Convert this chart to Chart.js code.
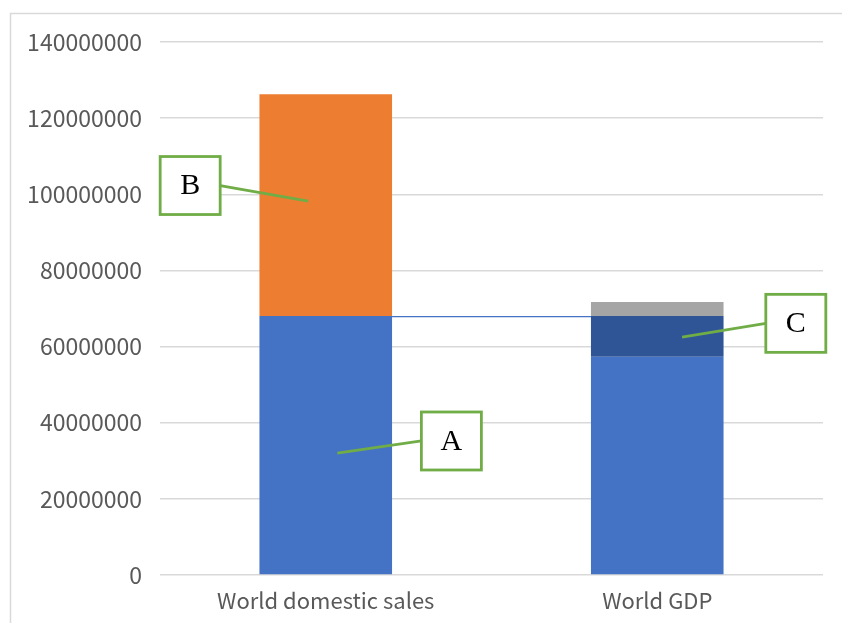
<!DOCTYPE html>
<html>
<head>
<meta charset="utf-8">
<script src="https://cdn.jsdelivr.net/npm/chart.js@4/dist/chart.umd.min.js"></script>
<style>
  html, body { margin: 0; padding: 0; background: #fff; overflow: hidden; }
  #wrap { width: 842px; height: 623px; position: relative; }
</style>
</head>
<body>
<div id="wrap"><canvas id="chart" width="842" height="623"></canvas></div>
<script>
// categories and stacked series
const categories = ['World domestic sales', 'World GDP'];
const seriesA = [68000000, 57300000];      // blue base
const seriesB = [58300000, 0];             // orange (top of domestic sales)
const seriesC = [0, 10700000];             // dark blue (GDP slice)
const seriesD = [0, 3700000];              // grey (top of GDP)
const yTicks = [0, 20000000, 40000000, 60000000, 80000000, 100000000, 120000000, 140000000];
const connectorValue = 68000000;

// callouts: label, box centre (category index, value), leader end (category index, value)
const calloutLabels = ['A', 'B', 'C'];
const calloutBox = [[0.379, 35200000], [-0.409, 102300000], [1.418, 66100000]];
const calloutTip = [[0.035, 32000000], [-0.053, 98200000], [1.075, 62500000]];

const fontFamily = '"Noto Sans CJK SC", "Noto Sans", sans-serif';

// outer frame (light border like the office chart)
const framePlugin = {
  id: 'frame',
  beforeDraw(chart) {
    const c = chart.ctx;
    c.save();
    c.strokeStyle = '#d9d9d9';
    c.lineWidth = 1.5;
    c.strokeRect(10.5, 13.5, 1000, 1000);
    c.restore();
  }
};

// thin line joining the two bars at the same level
const connectorPlugin = {
  id: 'connector',
  afterDatasetsDraw(chart) {
    const bars = chart.getDatasetMeta(0).data;
    const y = chart.scales.y.getPixelForValue(connectorValue);
    const x1 = bars[0].x + bars[0].width / 2;
    const x2 = bars[1].x - bars[1].width / 2;
    const c = chart.ctx;
    c.save();
    c.strokeStyle = '#4472C4';
    c.lineWidth = 1.2;
    c.beginPath();
    c.moveTo(x1, y + 0.5);
    c.lineTo(x2, y + 0.5);
    c.stroke();
    c.restore();
  }
};

// green boxed callouts
const calloutPlugin = {
  id: 'callouts',
  afterDatasetsDraw(chart) {
    const xs = chart.scales.x, ys = chart.scales.y;
    const step = xs.getPixelForValue(1) - xs.getPixelForValue(0);
    const px = v => xs.getPixelForValue(0) + v * step;
    const c = chart.ctx;
    c.save();
    calloutLabels.forEach((lab, i) => {
      const bx = px(calloutBox[i][0]), by = ys.getPixelForValue(calloutBox[i][1]);
      const tx = px(calloutTip[i][0]), ty = ys.getPixelForValue(calloutTip[i][1]);
      const w = 60, h = 58;
      // leader line goes to the nearest vertical edge of the box
      const ex = tx < bx ? bx - w / 2 : bx + w / 2;
      c.strokeStyle = '#70AD47';
      c.lineWidth = 2.8;
      c.beginPath();
      c.moveTo(tx, ty);
      c.lineTo(ex, by);
      c.stroke();
      c.fillStyle = '#fff';
      c.fillRect(bx - w / 2, by - h / 2, w, h);
      c.strokeRect(bx - w / 2, by - h / 2, w, h);
      c.fillStyle = '#000';
      c.font = '30px "Liberation Serif", "Times New Roman", serif';
      c.textAlign = 'center';
      c.textBaseline = 'middle';
      c.fillText(lab, bx, by + 1);
    });
    c.restore();
  }
};

const ctx = document.getElementById('chart').getContext('2d');
const myChart = new Chart(ctx, {
  type: 'bar',
  data: {
    labels: categories,
    datasets: [
      { label: 'A', data: seriesA, backgroundColor: '#4472C4' },
      { label: 'B', data: seriesB, backgroundColor: '#ED7D31' },
      { label: 'C', data: seriesC, backgroundColor: '#2F5597' },
      { label: 'D', data: seriesD, backgroundColor: '#A5A5A5' }
    ]
  },
  options: {
    responsive: false,
    animation: false,
    layout: { padding: { left: 10, right: 19, top: 42, bottom: 0 } },
    datasets: { bar: { categoryPercentage: 0.8, barPercentage: 0.5, borderWidth: 0 } },
    plugins: {
      legend: { display: false },
      tooltip: { enabled: false }
    },
    scales: {
      x: {
        stacked: true,
        grid: { display: false, drawTicks: false },
        border: { display: false },
        ticks: { color: '#595959', font: { family: fontFamily, size: 22 }, padding: 12 },
        afterFit(scale) { scale.height = 48; }
      },
      y: {
        stacked: true,
        min: 0,
        max: 140000000,
        afterBuildTicks(scale) { scale.ticks = yTicks.map(v => ({ value: v })); },
        grid: { color: '#d9d9d9', lineWidth: 1.5, drawTicks: false },
        border: { display: false },
        ticks: { color: '#595959', font: { family: fontFamily, size: 23 }, padding: 18, callback: v => String(v) },
        afterFit(scale) { scale.width = 150; }
      }
    }
  },
  plugins: [framePlugin, connectorPlugin, calloutPlugin]
});
</script>
</body>
</html>
